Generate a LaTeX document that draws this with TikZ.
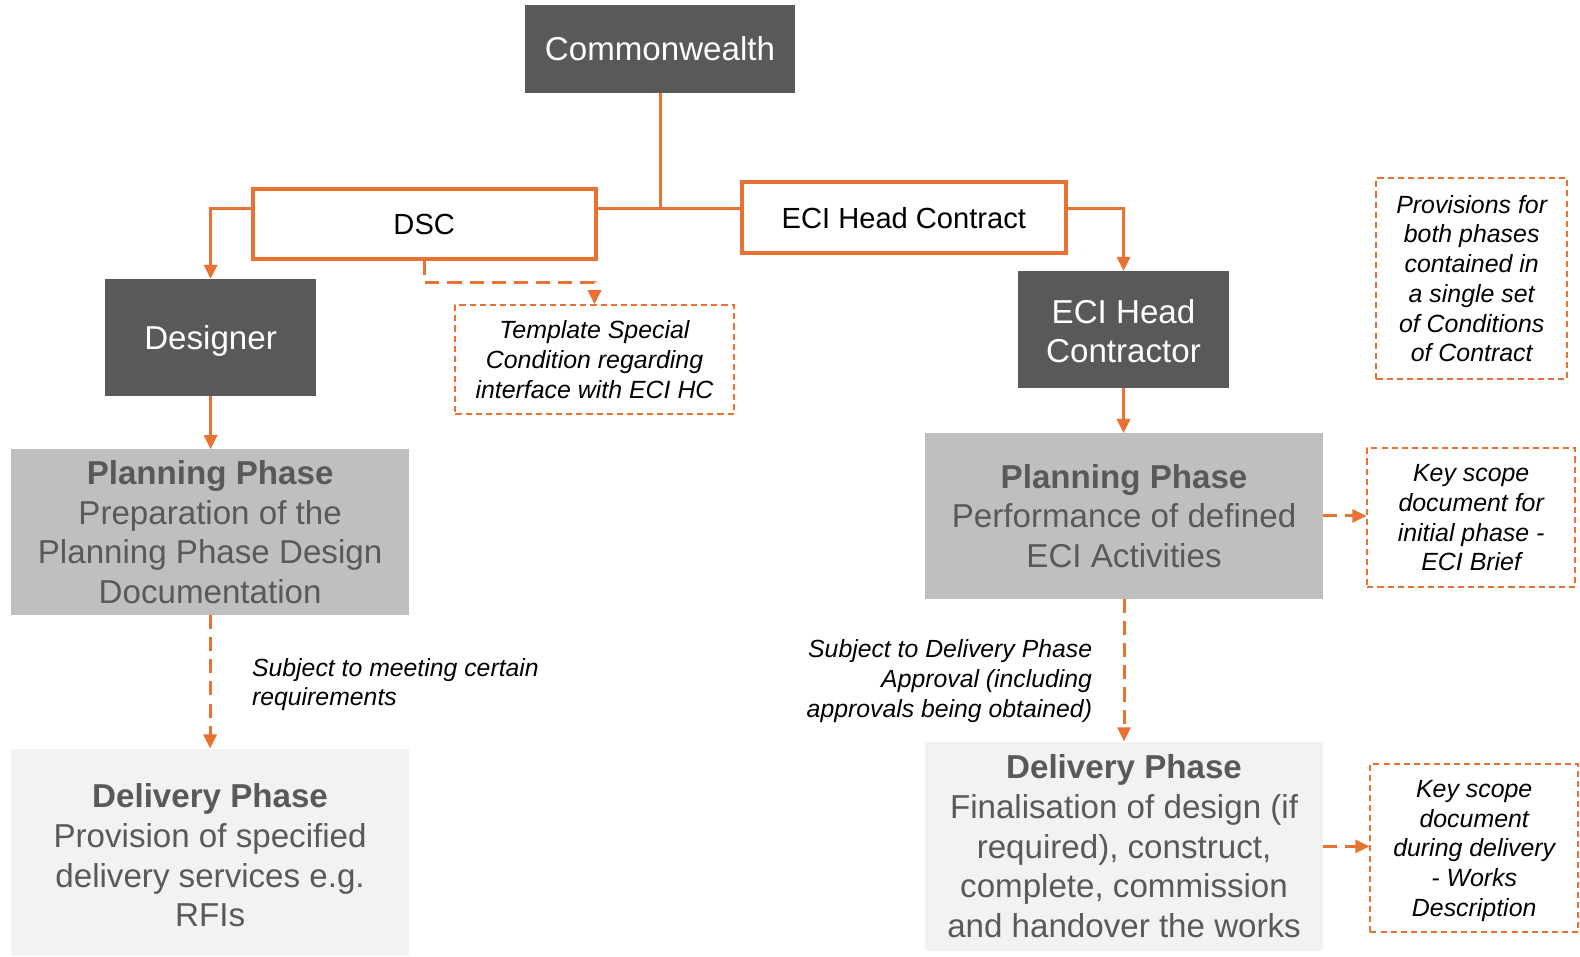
\documentclass[tikz,border=0pt]{standalone}
\usepackage{fontspec}
\setmainfont{Liberation Sans}
\usetikzlibrary{arrows.meta}
\definecolor{org}{HTML}{E97132}
\definecolor{dk}{HTML}{595959}
\definecolor{mg}{HTML}{BFBFBF}
\definecolor{lg}{HTML}{F2F2F2}
\tikzset{
  darkbox/.style={fill=dk, text=white, font=\fontsize{33}{39.5}\selectfont, align=center, inner sep=0pt},
  cbox/.style={draw=org, line width=4bp, fill=white, text=black, font=\fontsize{29}{34}\selectfont, inner sep=0pt},
  phase/.style={text=dk, font=\fontsize{33}{39.5}\selectfont, align=center, inner sep=0pt},
  note/.style={draw=org, line width=2bp, dash pattern=on 6bp off 4bp, font=\fontsize{24.8}{29.6}\selectfont\itshape, align=center, inner sep=0pt},
  ntext/.style={font=\fontsize{24.8}{29.6}\selectfont\itshape, align=center, inner sep=0pt},
  lbl/.style={font=\fontsize{24.7}{29.6}\selectfont\itshape, inner sep=0pt},
  conn/.style={draw=org, line width=3bp},
  arr/.style={conn, -{Triangle[length=14bp,width=13bp]}},
  darr/.style={arr, dash pattern=on 14bp off 8bp}
}
\begin{document}
\begin{tikzpicture}[x=1bp,y=-1bp]
\useasboundingbox (0,0) rectangle (1568,949.7);
% main boxes
\node[darkbox, minimum width=268bp, minimum height=87bp] (cw) at (655,48.5) {Commonwealth};
\node[cbox, minimum width=340bp, minimum height=69bp] (dsc) at (421,222.5) {DSC};
\node[cbox, minimum width=322bp, minimum height=70bp] (ehc) at (897,216) {ECI Head Contract};
\node[darkbox, minimum width=210bp, minimum height=116bp] (des) at (209,335) {};
\node[darkbox] (dest) at (209,338) {Designer};
\node[darkbox, minimum width=210bp, minimum height=116bp] (ehcr) at (1115,327) {};
\node[darkbox] (ehcrt) at (1115,328.5) {ECI Head\\Contractor};
\node[phase, fill=mg, minimum width=395bp, minimum height=164bp] (planL) at (208.5,528)
  {\textbf{Planning Phase}\\Preparation of the\\Planning Phase Design\\Documentation};
\node[phase, fill=lg, minimum width=395bp, minimum height=206bp] (delL) at (208.5,846) {};
\node[phase] (delLt) at (208.5,849)
  {\textbf{Delivery Phase}\\Provision of specified\\delivery services e.g.\\RFIs};
\node[phase, fill=mg, minimum width=395bp, minimum height=164bp] (planR) at (1115.5,512)
  {\textbf{Planning Phase}\\Performance of defined\\ECI Activities};
\node[phase, fill=lg, minimum width=395bp, minimum height=208bp] (delR) at (1115.5,840)
  {\textbf{Delivery Phase}\\Finalisation of design (if\\required), construct,\\complete, commission\\and handover the works};
% notes
\node[note, minimum width=276bp, minimum height=108bp] (tmpl) at (590,357)
  {Template Special\\Condition regarding\\interface with ECI HC};
\node[note, minimum width=189bp, minimum height=199bp] (prov) at (1460.5,276.5)
  {Provisions for\\both phases\\contained in\\a single set\\of Conditions\\of Contract};
\node[note, minimum width=206bp, minimum height=138bp] (keyI) at (1460,514)
  {Key scope\\document for\\initial phase -\\ECI Brief};
\node[note, minimum width=206bp, minimum height=167bp] (keyD) at (1463,841.5) {};
\node[ntext] (keyDt) at (1463,844.5)
  {Key scope\\document\\during delivery\\- Works\\Description};
% labels
\node[lbl, anchor=west, align=left] (lblL) at (250,679.5) {Subject to meeting certain\\requirements};
\node[lbl, anchor=east, align=right] (lblR) at (1084,676) {Subject to Delivery Phase\\Approval (including\\approvals being obtained)};
% connectors
\coordinate (j) at (655,207);
\draw[conn] (cw.south) -- (j);
\draw[conn] (dsc.east |- j) -- (j) -- (ehc.west |- j);
\draw[arr] (dsc.west |- j) -| (des.north);
\draw[arr] (ehc.east |- j) -| (ehcr.north);
\draw[arr] (des.south) -- (des.south |- planL.north);
\draw[arr] (ehcr.south) -- (ehcr.south |- planR.north);
\draw[darr] (dsc.south) -- ++(0,21) -| (tmpl.north);
\draw[darr] (planL.south) -- (delL.north);
\draw[darr] (planR.south) -- (delR.north);
\draw[darr] (planR.east) -- (planR.east -| keyI.west);
\draw[darr] (delR.east) -- (delR.east -| keyD.west);
\end{tikzpicture}
\end{document}
